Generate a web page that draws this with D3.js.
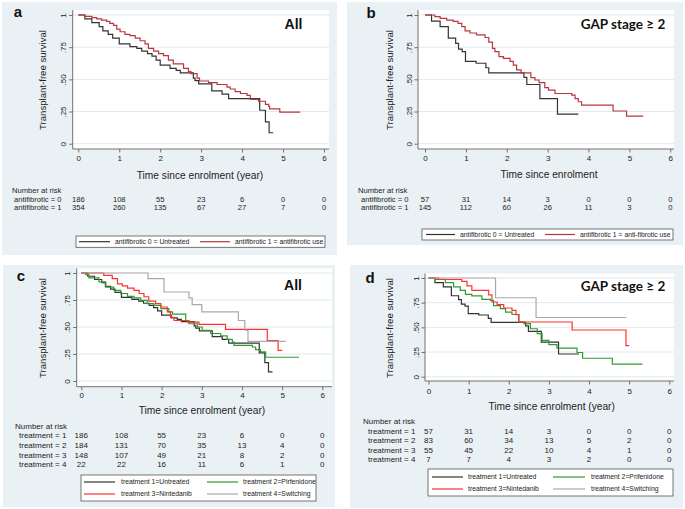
<!DOCTYPE html>
<html>
<head>
<meta charset="utf-8">
<script src="https://cdn.jsdelivr.net/npm/d3@7"></script>
<style>
  body { margin: 0; background: #fff; }
  svg { display: block; font-family: "Liberation Sans", Arial, sans-serif; }
</style>
</head>
<body>
<svg id="chart" width="685" height="509"></svg>
<script>
// ---- data: [time (years), survival] step points ----
const untreatedAll = [[0,1],[0.16,0.97],[0.33,0.94],[0.51,0.91],[0.6,0.876],[0.73,0.85],[0.84,0.82],[1.0,0.775],[1.26,0.755],[1.43,0.74],[1.55,0.72],[1.69,0.70],[1.8,0.68],[1.9,0.65],[2.0,0.61],[2.24,0.585],[2.39,0.57],[2.49,0.55],[2.81,0.51],[2.85,0.49],[2.94,0.465],[3.26,0.41],[3.51,0.385],[3.67,0.35],[4.43,0.26],[4.57,0.17],[4.66,0.085],[4.76,0.085]];
const antifibAll = [[0,1],[0.16,0.99],[0.33,0.98],[0.45,0.97],[0.57,0.96],[0.69,0.95],[0.77,0.935],[0.86,0.92],[0.94,0.89],[1.02,0.87],[1.14,0.85],[1.26,0.84],[1.39,0.82],[1.51,0.80],[1.63,0.775],[1.71,0.74],[1.84,0.72],[1.96,0.70],[2.08,0.685],[2.2,0.65],[2.32,0.62],[2.57,0.585],[2.69,0.56],[2.75,0.545],[2.9,0.51],[2.96,0.487],[3.18,0.475],[3.39,0.46],[3.63,0.44],[3.71,0.425],[3.83,0.405],[3.96,0.39],[4.12,0.375],[4.2,0.345],[4.4,0.33],[4.57,0.305],[4.65,0.29],[4.67,0.27],[4.92,0.245],[5.42,0.245]];
const untreatedGap = [[0,1],[0.16,0.953],[0.37,0.91],[0.57,0.82],[0.75,0.78],[0.82,0.735],[0.91,0.715],[0.99,0.64],[1.25,0.625],[1.49,0.59],[1.56,0.55],[2.42,0.515],[2.49,0.46],[2.81,0.35],[3.24,0.23],[3.75,0.23]];
const antifibGap = [[0,1],[0.24,0.987],[0.37,0.974],[0.53,0.96],[0.69,0.95],[0.81,0.935],[0.9,0.91],[0.98,0.876],[1.1,0.86],[1.26,0.845],[1.47,0.825],[1.56,0.79],[1.65,0.74],[1.71,0.715],[1.81,0.676],[1.92,0.663],[2.08,0.64],[2.16,0.61],[2.24,0.573],[2.35,0.55],[2.59,0.513],[2.69,0.495],[2.79,0.474],[2.93,0.435],[3.02,0.417],[3.18,0.39],[3.59,0.378],[3.67,0.35],[3.75,0.326],[3.83,0.30],[4.6,0.254],[4.93,0.215],[5.34,0.215]];
const pirfAll = [[0,1],[0.11,0.985],[0.19,0.954],[0.44,0.917],[0.61,0.87],[0.81,0.84],[0.98,0.81],[1.15,0.784],[1.31,0.77],[1.48,0.747],[1.64,0.716],[1.81,0.70],[1.98,0.67],[2.18,0.64],[2.27,0.62],[2.6,0.56],[2.68,0.53],[2.89,0.50],[3.01,0.47],[3.22,0.44],[3.47,0.417],[3.63,0.386],[3.76,0.36],[3.8,0.33],[4.26,0.315],[4.34,0.29],[4.46,0.27],[4.59,0.22],[5.42,0.22]];
const ninteAll = [[0,1],[0.56,0.978],[0.77,0.948],[0.9,0.90],[1.02,0.88],[1.15,0.86],[1.31,0.84],[1.44,0.81],[1.56,0.78],[1.68,0.74],[1.85,0.716],[1.98,0.685],[2.14,0.64],[2.22,0.59],[2.31,0.56],[2.64,0.546],[2.93,0.525],[3.59,0.478],[4.63,0.375],[4.9,0.284],[5.0,0.284]];
const switchAll = [[0,1],[1.66,0.948],[2.06,0.824],[2.68,0.77],[2.76,0.707],[3.0,0.64],[3.91,0.56],[4.07,0.47],[4.15,0.367],[5.09,0.367]];
const pirfGap = [[0,1],[0.17,0.986],[0.42,0.953],[0.625,0.91],[0.79,0.875],[0.92,0.834],[1.08,0.818],[1.33,0.784],[1.54,0.774],[1.62,0.72],[1.79,0.69],[1.92,0.655],[2.08,0.63],[2.25,0.554],[2.375,0.537],[2.54,0.486],[2.71,0.436],[2.83,0.368],[3.0,0.324],[3.2,0.29],[3.7,0.245],[3.84,0.187],[4.58,0.127],[5.33,0.127]];
const ninteGap = [[0,1],[0.25,0.985],[0.83,0.966],[0.96,0.92],[1.08,0.875],[1.5,0.83],[1.58,0.757],[1.71,0.73],[1.875,0.696],[2.08,0.672],[2.18,0.628],[2.25,0.554],[3.58,0.473],[4.92,0.315],[5.0,0.315]];
const switchGap = [[0,1],[1.67,0.80],[2.68,0.60],[4.93,0.60]];

const xTicks = [0, 1, 2, 3, 4, 5, 6];
const yTicks = [0, 0.25, 0.5, 0.75, 1];
const yTickLabels = ["0", ".25", ".50", ".75", "1"];

const riskLabelsAB = ["antifibrotic = 0", "antifibrotic = 1"];
const riskLabelsCD = ["treatment = 1", "treatment = 2", "treatment = 3", "treatment = 4"];
const riskA = [[186,108,55,23,6,0,0],[354,260,135,67,27,7,0]];
const riskB = [[57,31,14,3,0,0,0],[145,112,60,26,11,3,0]];
const riskC = [[186,108,55,23,6,0,0],[184,131,70,35,13,4,0],[148,107,49,21,8,2,0],[22,22,16,11,6,1,0]];
const riskD = [[57,31,14,3,0,0,0],[83,60,34,13,5,2,0],[55,45,22,10,4,1,0],[7,7,4,3,2,0,0]];

const legendA = ["antifibrotic 0 = Untreated", "antifibrotic 1 = antifibrotic use"];
const legendB = ["antifibrotic 0 = Untreated", "antifibrotic 1 = anti-fibrotic use"];
const legendC = ["treatment 1=Untreated", "treatment 2=Pirfenidone", "treatment 3=Nintedanib", "treatment 4=Switching"];
const legendD = ["treatment 1=Untreated", "treatment 2=Prifenidone", "treatment 3=Nintedanib", "treatment 4=Switching"];

// colours
const cBlack = "#333333", cDarkRed = "#b8373d", cRed = "#ff3030", cGreen = "#2f9a2f", cGray = "#a9a9a9";
const cBg = "#eaf1f4", cGrid = "#e2e9ed", cAxis = "#707070", cText = "#222222";

const panels = [
  { letter: "a", tag: "All", tagBold: true, xTitle: "Time since enrolment (year)",
    series: [untreatedAll, antifibAll], colors: [cBlack, cDarkRed],
    risk: riskA, riskLabels: riskLabelsAB, legend: legendA, riskFont: 7.6,
    L: { bg: [2, 2, 337, 255], plot: [72.7, 10, 329, 149], xr: [78.3, 324], yr: [143.7, 15],
         letter: [18, 17], tag: [293.5, 24], yTitle: [43, 80], xTickY: 158, xTitleP: [200, 175],
         nar: [12, 190], rows: [199.2, 207.8], rowX: 14, box: [76, 236, 325, 247.3],
         items: [[79, 110, 115, 241.7], [200, 230, 235, 241.7]] } },
  { letter: "b", tag: "GAP stage \u2265 2", tagBold: false, xTitle: "Time since enrolment",
    series: [untreatedGap, antifibGap], colors: [cBlack, cDarkRed],
    risk: riskB, riskLabels: riskLabelsAB, legend: legendB, riskFont: 7.6,
    L: { bg: [347, 2, 683, 245], plot: [418, 10, 674, 149], xr: [425, 670.3], yr: [143.7, 15],
         letter: [371, 18], tag: [623, 24], yTitle: [390, 80], xTickY: 158, xTitleP: [549, 174],
         nar: [358, 190], rows: [199.2, 207.8], rowX: 361, box: [422, 229, 673, 240],
         items: [[426, 455, 460, 234.5], [545, 575, 580, 234.5]] } },
  { letter: "c", tag: "All", tagBold: true, xTitle: "Time since enrolment (year)",
    series: [untreatedAll, pirfAll, ninteAll, switchAll], colors: [cBlack, cGreen, cRed, cGray],
    risk: riskC, riskLabels: riskLabelsCD, legend: legendC, riskFont: 8,
    L: { bg: [3, 265, 335, 507], plot: [76.7, 268.5, 332, 386.7], xr: [81.3, 322.3], yr: [381, 273],
         letter: [21, 281], tag: [293, 285], yTitle: [43, 328], xTickY: 395, xTitleP: [202, 410],
         nar: [15, 426], rows: [435, 445, 455, 464.5], rowX: 19, box: [81, 475, 316, 501],
         items: [[84, 115, 121, 482], [207, 238, 243, 482], [84, 115, 121, 494], [207, 238, 243, 494]] } },
  { letter: "d", tag: "GAP stage \u2265 2", tagBold: false, xTitle: "Time since enrolment (year)",
    series: [untreatedGap, pirfGap, ninteGap, switchGap], colors: [cBlack, cGreen, cRed, cGray],
    risk: riskD, riskLabels: riskLabelsCD, legend: legendD, riskFont: 8,
    L: { bg: [350, 265, 683, 508], plot: [425, 273.5, 674, 381], xr: [428.5, 669.3], yr: [376.7, 278],
         letter: [370, 283], tag: [623, 286], yTitle: [390, 328], xTickY: 391, xTitleP: [551.7, 406.7],
         nar: [363, 421.5], rows: [431, 440.5, 450, 459.5], rowX: 368, box: [428, 469, 673, 496],
         items: [[432, 463, 468, 477], [553, 585, 591, 477], [432, 463, 468, 489], [553, 585, 591, 489]] } }
];

const svg = d3.select("#chart");

function drawPanel(p) {
  const L = p.L;
  const g = svg.append("g");

  g.append("rect")
    .attr("x", L.bg[0]).attr("y", L.bg[1])
    .attr("width", L.bg[2] - L.bg[0]).attr("height", L.bg[3] - L.bg[1])
    .attr("fill", cBg);

  const [px0, py0, px1, py1] = L.plot;
  g.append("rect")
    .attr("x", px0).attr("y", py0)
    .attr("width", px1 - px0).attr("height", py1 - py0)
    .attr("fill", "#fff");

  const x = d3.scaleLinear().domain([0, 6]).range(L.xr);
  const y = d3.scaleLinear().domain([0, 1]).range(L.yr);

  // gridlines
  g.append("g").selectAll("line")
    .data(yTicks)
    .enter()
    .append("line")
    .attr("x1", px0).attr("x2", px1)
    .attr("y1", d => y(d)).attr("y2", d => y(d))
    .attr("stroke", cGrid).attr("stroke-width", 1);

  // axes
  const xAxis = d3.axisBottom(x).tickValues(xTicks).tickSize(3.5).tickPadding(3).tickFormat(d3.format("d"));
  const gx = g.append("g")
    .attr("transform", "translate(0," + py1 + ")")
    .call(xAxis);
  gx.select(".domain").remove();
  gx.selectAll("line").attr("stroke", cAxis);
  gx.selectAll("text")
    .attr("y", L.xTickY - py1).attr("dy", "0.35em")
    .attr("fill", cText).style("font-size", "8px").style("font-family", "Liberation Sans, Arial, sans-serif");

  const yAxis = d3.axisLeft(y).tickValues(yTicks).tickSize(3.5).tickFormat((d, i) => yTickLabels[i]);
  const gy = g.append("g")
    .attr("transform", "translate(" + px0 + ",0)")
    .call(yAxis);
  gy.select(".domain").remove();
  gy.selectAll("line").attr("stroke", cAxis);
  gy.selectAll("text")
    .attr("transform", "rotate(-90)")
    .attr("x", 0).attr("y", -6.5).attr("dy", 0)
    .attr("text-anchor", "middle")
    .attr("fill", cText).style("font-size", "8px").style("font-family", "Liberation Sans, Arial, sans-serif");

  g.append("line").attr("x1", px0).attr("x2", px0).attr("y1", py0).attr("y2", py1)
    .attr("stroke", cAxis).attr("stroke-width", 1);
  g.append("line").attr("x1", px0).attr("x2", px1).attr("y1", py1).attr("y2", py1)
    .attr("stroke", cAxis).attr("stroke-width", 1);

  // survival curves
  const line = d3.line()
    .x(d => x(d[0]))
    .y(d => y(d[1]))
    .curve(d3.curveStepAfter);
  p.series.forEach((s, i) => {
    g.append("path")
      .datum(s)
      .attr("d", line)
      .attr("fill", "none")
      .attr("stroke", p.colors[i])
      .attr("stroke-width", 1.2);
  });

  // titles
  g.append("text").attr("x", L.letter[0]).attr("y", L.letter[1])
    .attr("text-anchor", "middle").attr("font-weight", "bold")
    .style("font-size", "15px").attr("fill", "#111").text(p.letter);

  const tag = g.append("text").attr("x", L.tag[0]).attr("y", L.tag[1]).attr("dy", "0.35em")
    .attr("text-anchor", "middle").attr("fill", "#111").text(p.tag);
  if (p.tagBold) {
    tag.attr("font-weight", "bold").style("font-size", "14px");
  } else {
    tag.attr("font-weight", "bold").style("font-size", "13.5px").style("font-family", "Lato, 'Open Sans', sans-serif");
  }

  g.append("text")
    .attr("transform", "translate(" + L.yTitle[0] + "," + L.yTitle[1] + ") rotate(-90)")
    .attr("text-anchor", "middle").attr("dy", "0.35em")
    .style("font-size", "9.6px").attr("fill", cText)
    .text("Transplant-free survival");

  g.append("text").attr("x", L.xTitleP[0]).attr("y", L.xTitleP[1]).attr("dy", "0.35em")
    .attr("text-anchor", "middle").style("font-size", "10.2px").attr("fill", cText)
    .text(p.xTitle);

  // number at risk table
  const fs = p.riskFont + "px";
  g.append("text").attr("x", L.nar[0]).attr("y", L.nar[1]).attr("dy", "0.35em")
    .style("font-size", fs).attr("fill", cText).text("Number at risk");

  p.risk.forEach((row, r) => {
    g.append("text").attr("x", L.rowX).attr("y", L.rows[r]).attr("dy", "0.35em")
      .style("font-size", fs).attr("fill", cText)
      .text(p.riskLabels[r]);
    g.append("g").selectAll("text")
      .data(row)
      .enter()
      .append("text")
      .attr("x", (d, i) => x(xTicks[i]))
      .attr("y", L.rows[r]).attr("dy", "0.35em")
      .attr("text-anchor", "middle")
      .style("font-size", fs).attr("fill", cText)
      .text(d => d);
  });

  // legend
  g.append("rect")
    .attr("x", L.box[0]).attr("y", L.box[1])
    .attr("width", L.box[2] - L.box[0]).attr("height", L.box[3] - L.box[1])
    .attr("fill", "#fff").attr("stroke", "#555").attr("stroke-width", 0.8);
  p.legend.forEach((lab, i) => {
    const it = L.items[i];
    g.append("line").attr("x1", it[0]).attr("x2", it[1]).attr("y1", it[3]).attr("y2", it[3])
      .attr("stroke", p.colors[i]).attr("stroke-width", 1.2);
    g.append("text").attr("x", it[2]).attr("y", it[3]).attr("dy", "0.35em")
      .style("font-size", "6.8px").attr("fill", cText).text(lab);
  });
}

panels.forEach(drawPanel);
</script>
</body>
</html>
